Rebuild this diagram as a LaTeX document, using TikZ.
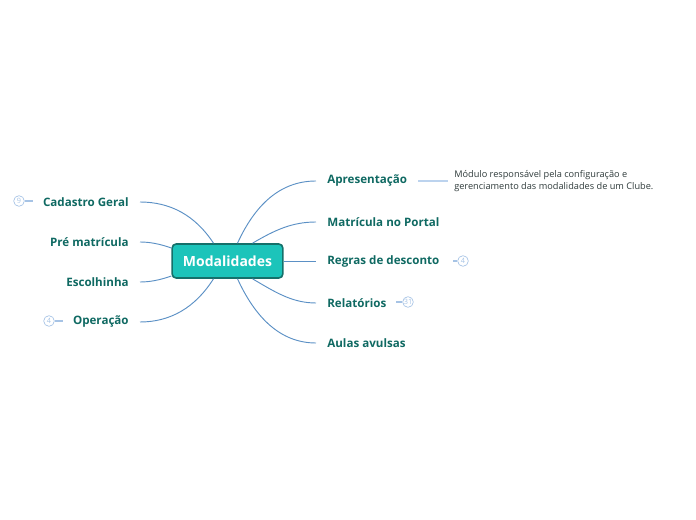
\documentclass[tikz,border=0pt]{standalone}
\usepackage{fontspec}
\setmainfont{Open Sans}
\usetikzlibrary{calc}
\definecolor{modTeal}{HTML}{1CC4BA}
\definecolor{modTealDark}{HTML}{15706A}
\definecolor{modInk}{HTML}{0F6962}
\definecolor{modLine}{HTML}{5B90C5}
\definecolor{modBadge}{HTML}{A6C3E5}
\definecolor{modNoteLine}{HTML}{BCD3EE}
\definecolor{modNote}{HTML}{2F3B3B}

\begin{document}
\begin{tikzpicture}[
  x=0.75pt,y=-0.75pt,
  root/.style={rounded corners=3pt,draw=modTealDark,line width=1.2pt,fill=modTeal,minimum width=83pt,minimum height=25.5pt,text=white,font=\fontsize{10.5}{12}\selectfont\bfseries},
  branch/.style={inner xsep=8.3pt,inner ysep=2pt,text=modInk,font=\fontsize{8.7}{10}\selectfont\bfseries},
  lbranch/.style={branch,anchor=east},
  rbranch/.style={branch,anchor=west},
  badge/.style={circle,draw=modBadge,line width=0.5pt,inner sep=0pt,minimum size=8pt,text=modBadge,font=\fontsize{5.5}{6}\selectfont},
  note/.style={anchor=west,inner xsep=4.5pt,align=left,text=modNote,font=\fontsize{6.9}{9}\selectfont},
  edge/.style={draw=modLine,line width=0.7pt},
  tick/.style={draw=modBadge,line width=0.8pt},
  noteline/.style={draw=modNoteLine,line width=0.9pt}
]
\useasboundingbox (0,0) rectangle (696,520);

\node[root] (center) at (227.5,261) {Modalidades};

% right side
\node[rbranch] (apres) at (316,181) {Apresentação};
\node[rbranch] (portal) at (316,222) {Matrícula no Portal};
\node[rbranch] (regras) at (316,261) {Regras de desconto};
\node[rbranch] (relat) at (316,303) {Relatórios};
\node[rbranch] (aulas) at (316,343) {Aulas avulsas};

% left side
\node[lbranch] (cadastro) at (140,202) {Cadastro Geral};
\node[lbranch] (prematr) at (140,242) {Pré matrícula};
\node[lbranch] (escol) at (140,282) {Escolhinha};
\node[lbranch] (operacao) at (140,322) {Operação};

\node[note] (desc) at (448,181) {Módulo responsável pela configuração e\\gerenciamento das modalidades de um Clube.};

\node[badge] (nCadastro) at (19,201) {9};
\node[badge] (nOperacao) at (49,321) {4};
\node[badge] (nRegras) at (463,261) {4};
\node[badge] (nRelat) at (408,302) {31};

\draw[edge] ($(center.north)+(10,0)$) .. controls (255,205) and (280,181) .. (apres.west);
\draw[edge] ($(center.north)+(25,0)$) .. controls (275,230) and (292,222) .. (portal.west);
\draw[edge] (center.east) -- (regras.west);
\draw[edge] ($(center.south)+(25,0)$) .. controls (275,292) and (292,303) .. (relat.west);
\draw[edge] ($(center.south)+(10,0)$) .. controls (255,317) and (280,343) .. (aulas.west);

\draw[edge] ($(center.north)+(-14,0)$) .. controls (195,215) and (170,202) .. (cadastro.east);
\draw[edge] ($(center.west)+(0,-13)$) .. controls (160,244) and (150,242) .. (prematr.east);
\draw[edge] ($(center.west)+(0,15)$) .. controls (160,280) and (150,282) .. (escol.east);
\draw[edge] ($(center.south)+(-14,0)$) .. controls (195,308) and (170,322) .. (operacao.east);

\draw[noteline] (apres.east) -- (desc.west);

\draw[tick] (nCadastro.east) -- ++(8,0);
\draw[tick] (nOperacao.east) -- ++(8,0);
\draw[tick] (nRegras.west) -- ++(-4,0);
\draw[tick] (nRelat.west) -- ++(-6,0);
\end{tikzpicture}
\end{document}
